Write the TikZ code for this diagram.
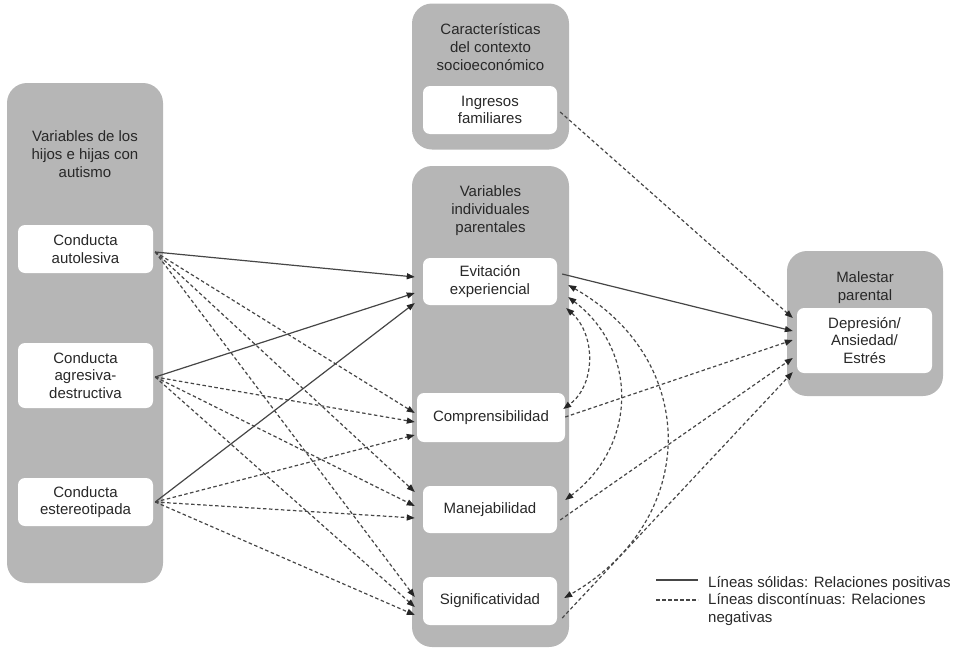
\documentclass[tikz,border=0pt]{standalone}
\usepackage{fontspec}
\setmainfont{Liberation Sans}
\usetikzlibrary{arrows.meta}
\definecolor{boxgray}{RGB}{182,182,182}
\definecolor{linec}{RGB}{70,70,70}
\definecolor{txt}{RGB}{40,40,40}
\begin{document}
\begin{tikzpicture}[x=1pt,y=-1pt,
  graybox/.style={draw=none, fill=boxgray, rounded corners=20pt, inner sep=0pt},
  whitebox/.style={draw=none, fill=white, rounded corners=7pt, inner sep=0pt, align=center, text=txt, font=\fontsize{15}{17.5}\selectfont},
  ttl/.style={align=center, text=txt, font=\fontsize{15}{18}\selectfont, inner sep=0pt},
  posarrow/.style={draw=linec, line width=1.2pt, -{Triangle[length=8pt,width=6pt,color=black!85]}},
  negarrow/.style={posarrow, dash pattern=on 3.5pt off 2.5pt},
  negboth/.style={draw=linec, line width=1.2pt, dash pattern=on 3.5pt off 2.5pt, {Triangle[length=8pt,width=6pt,color=black!85]}-{Triangle[length=8pt,width=6pt,color=black!85]}},
]
\useasboundingbox (0,0) rectangle (953,648);

% gray group boxes
\node[graybox, minimum width=156pt, minimum height=500pt] (leftbox) at (85,333) {};
\node[graybox, minimum width=157pt, minimum height=146pt] (topbox) at (490.5,76.5) {};
\node[graybox, minimum width=157pt, minimum height=481pt] (midbox) at (490.5,406.5) {};
\node[graybox, minimum width=156pt, minimum height=145pt] (rightbox) at (865,323.5) {};

% titles
\node[ttl] (tleft) at (85,154) {Variables de los\\hijos e hijas con\\autismo};
\node[ttl] (ttop) at (490.5,47) {Características\\del contexto\\socioeconómico};
\node[ttl] (tmid) at (490.5,211) {Variables\\individuales\\parentales};
\node[ttl] (tright) at (865,288) {Malestar\\parental};

% white variable boxes
\node[whitebox, minimum width=135pt, minimum height=48pt] (auto) at (85.5,249) {Conducta\\autolesiva};
\node[whitebox, minimum width=135pt, minimum height=65pt] (agr) at (85.5,375.5) {Conducta\\agresiva-\\destructiva};
\node[whitebox, minimum width=135pt, minimum height=48pt] (est) at (85.5,502) {Conducta\\estereotipada};
\node[whitebox, minimum width=134pt, minimum height=48pt] (ingr) at (490,110) {Ingresos\\familiares};
\node[whitebox, minimum width=134pt, minimum height=47pt] (evit) at (490,281.5) {Evitación\\experiencial};
\node[whitebox, minimum width=148pt, minimum height=49pt] (compr) at (491,417.5) {Comprensibilidad};
\node[whitebox, minimum width=134pt, minimum height=47pt] (manej) at (490,509.5) {Manejabilidad};
\node[whitebox, minimum width=134pt, minimum height=48pt] (signif) at (490,601) {Significatividad};
\node[whitebox, minimum width=135pt, minimum height=65pt] (dep) at (864.5,340.5) {Depresión/\\Ansiedad/\\Estrés};

% children variables -> parental variables
\draw[posarrow] ([xshift=2pt,yshift=-3pt]auto.east) -- ([xshift=-8pt,yshift=4.5pt]evit.west);
\draw[negarrow] ([xshift=2pt,yshift=-3pt]auto.east) -- ([xshift=-2pt,yshift=4.5pt]compr.west);
\draw[negarrow] ([xshift=2pt,yshift=-3pt]auto.east) -- ([xshift=-8pt,yshift=17.5pt]manej.west);
\draw[negarrow] ([xshift=2pt,yshift=-3pt]auto.east) -- ([xshift=-8pt,yshift=4pt]signif.west);

\draw[posarrow] ([xshift=2pt,yshift=-1.5pt]agr.east) -- ([xshift=-8pt,yshift=-11.5pt]evit.west);
\draw[negarrow] ([xshift=2pt,yshift=-1.5pt]agr.east) -- ([xshift=-2pt,yshift=-4.5pt]compr.west);
\draw[negarrow] ([xshift=2pt,yshift=-1.5pt]agr.east) -- ([xshift=-8pt,yshift=3.5pt]manej.west);
\draw[negarrow] ([xshift=2pt,yshift=-1.5pt]agr.east) -- ([xshift=-8pt,yshift=-6pt]signif.west);

\draw[posarrow] ([xshift=2pt]est.east) -- ([xshift=-8pt,yshift=-21.5pt]evit.west);
\draw[negarrow] ([xshift=2pt]est.east) -- ([xshift=-2pt,yshift=-17.5pt]compr.west);
\draw[negarrow] ([xshift=2pt]est.east) -- ([xshift=-8pt,yshift=-8.5pt]manej.west);
\draw[negarrow] ([xshift=2pt]est.east) -- ([xshift=-8pt,yshift=-14pt]signif.west);

% to parental distress
\draw[negarrow] ([xshift=3pt,yshift=-2pt]ingr.east) -- ([xshift=-4pt,yshift=22.5pt]dep.west);
\draw[posarrow] ([xshift=5pt,yshift=7.5pt]evit.east) -- ([xshift=-4pt,yshift=9.5pt]dep.west);
\draw[negarrow] ([xshift=0pt,yshift=0.5pt]compr.east) -- ([xshift=-4pt,yshift=0.5pt]dep.west);
\draw[negarrow] ([xshift=3pt,yshift=-10.5pt]manej.east) -- ([xshift=-4pt,yshift=-17.5pt]dep.west);
\draw[negarrow] ([xshift=5pt,yshift=-17pt]signif.east) -- ([xshift=-4pt,yshift=-31.5pt]dep.west);

% correlations between parental variables
\draw[negboth] ([xshift=9pt,yshift=-26.5pt]evit.east) .. controls (596,335) and (596,385) .. ([xshift=-2pt,yshift=8.5pt]compr.east);
\draw[negboth] ([xshift=11pt,yshift=-15.5pt]evit.east) .. controls (638,350) and (638,445) .. ([xshift=8pt,yshift=9.5pt]manej.east);
\draw[negboth] ([xshift=11pt,yshift=-3.5pt]evit.east) .. controls (700,360) and (700,520) .. ([xshift=7pt,yshift=3pt]signif.east);

% legend
\coordinate (ls1) at (656,580);
\coordinate (ls2) at (698,580);
\coordinate (ld1) at (656,600);
\coordinate (ld2) at (698,600);
\draw[draw=linec, line width=1.2pt] (ls1) -- (ls2);
\draw[draw=linec, line width=1.2pt, dash pattern=on 3.5pt off 2.5pt] (ld1) -- (ld2);
\node[anchor=north west, align=left, inner sep=0pt, text=txt, font=\fontsize{15}{17.5}\selectfont] (legend) at (708,576)
  {Líneas sólidas: Relaciones positivas\\Líneas discontínuas: Relaciones\\negativas};
\end{tikzpicture}
\end{document}
